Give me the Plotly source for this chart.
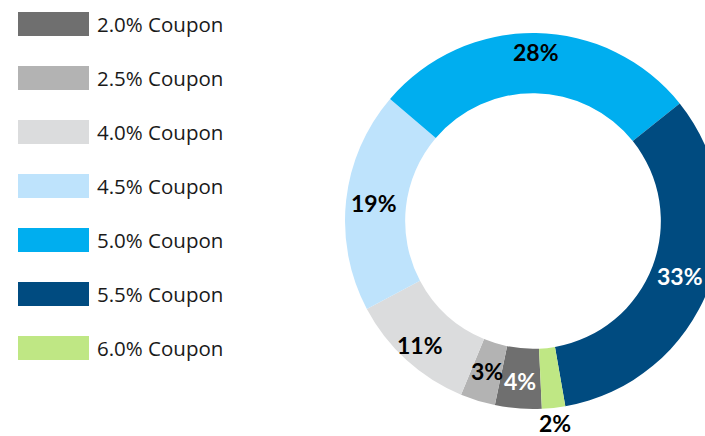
import math
import plotly.graph_objects as go

# ---- data ----
categories = ["2.0% Coupon", "2.5% Coupon", "4.0% Coupon", "4.5% Coupon",
              "5.0% Coupon", "5.5% Coupon", "6.0% Coupon"]
shares = [4, 3, 11, 19, 28, 33, 2]
label_text = ["4%", "3%", "11%", "19%", "28%", "33%", "2%"]

# ---- styles ----
colors = ["#6f6f6f", "#b3b3b3", "#dbdcdd", "#bee3fc", "#00aeef", "#004b80", "#bfe784"]
label_colors = ["white", "black", "black", "black", "black", "white", "black"]
label_outside = [False, False, False, False, False, False, True]
label_radial_nudge = [3, -1, 10, 2, 11, -1, 0]

FIG_W, FIG_H = 740, 436
CX, CY, R = 533, 221, 188
HOLE = 0.68
ROTATION = 177.3

fig = go.Figure()
fig.add_trace(go.Pie(
    values=shares, labels=categories, sort=False, direction="clockwise",
    rotation=ROTATION, hole=HOLE, textinfo="none", hoverinfo="label+percent",
    marker=dict(colors=colors, line=dict(width=0)),
    domain=dict(x=[(CX - R) / FIG_W, (CX + R) / FIG_W],
                y=[1 - (CY + R) / FIG_H, 1 - (CY - R) / FIG_H]),
    showlegend=False,
))

annotations = []
total = sum(shares)
cum = 0.0
for v, txt, col, out, nudge in zip(shares, label_text, label_colors,
                                   label_outside, label_radial_nudge):
    theta = math.radians(ROTATION + 360.0 * (cum + v / 2.0) / total)
    cum += v
    r = (R + 15 if out else R * (1 + HOLE) / 2) + nudge
    px = CX + r * math.sin(theta)
    py = CY - r * math.cos(theta)
    annotations.append(dict(
        x=px / FIG_W, y=1 - py / FIG_H, xref="paper", yref="paper",
        text=txt, showarrow=False, xanchor="center", yanchor="middle",
        font=dict(family="Lato", size=23, color=col, weight="bold"),
    ))

shapes = []
for i, (name, col) in enumerate(zip(categories, colors)):
    yc = 24 + 54 * i
    shapes.append(dict(type="rect", xref="paper", yref="paper",
                       x0=18 / FIG_W, x1=89 / FIG_W,
                       y0=1 - (yc + 12) / FIG_H, y1=1 - (yc - 12) / FIG_H,
                       fillcolor=col, line=dict(width=0)))
    annotations.append(dict(
        x=95 / FIG_W, y=1 - yc / FIG_H, xref="paper", yref="paper",
        text=name, showarrow=False, xanchor="left", yanchor="middle",
        font=dict(family="Open Sans", size=20.5, color="#1a1a1a"),
    ))

fig.update_layout(
    width=FIG_W, height=FIG_H,
    margin=dict(l=0, r=0, t=0, b=0),
    paper_bgcolor="white", plot_bgcolor="white",
    annotations=annotations, shapes=shapes,
)

fig.write_html("out.html", config={"displayModeBar": False},
               post_script="document.body.style.margin='0';document.body.style.overflow='hidden';")
